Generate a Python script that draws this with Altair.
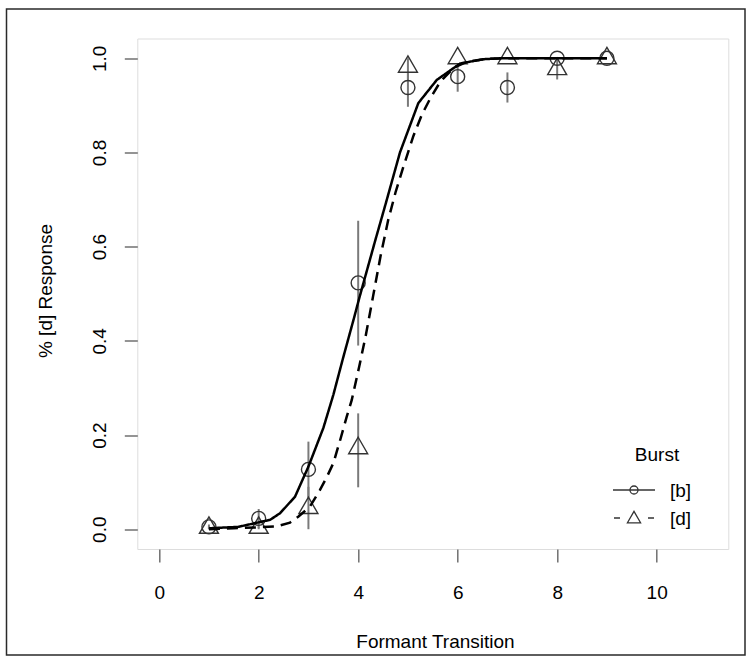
import altair as alt
import pandas as pd

# Stimulus steps along the formant-transition continuum
transition = [1, 2, 3, 4, 5, 6, 7, 8, 9]

# Proportion of [d] responses with [b] burst (mean and error-bar limits)
b_mean = [0.005, 0.023, 0.127, 0.523, 0.938, 0.961, 0.938, 1.0, 1.0]
b_low = [0.0, 0.003, 0.068, 0.390, 0.897, 0.929, 0.906, 1.0, 1.0]
b_high = [0.010, 0.043, 0.186, 0.655, 0.968, 0.985, 0.970, 1.0, 1.0]

# Proportion of [d] responses with [d] burst
d_mean = [0.003, 0.003, 0.045, 0.172, 0.982, 1.0, 1.0, 0.977, 1.0]
d_low = [0.0, 0.0, 0.0, 0.089, 0.955, 1.0, 1.0, 0.955, 1.0]
d_high = [0.006, 0.006, 0.090, 0.246, 1.0, 1.0, 1.0, 1.0, 1.0]

# Fitted response curves
b_fit_x = [1.0, 1.59, 2.23, 2.43, 2.73, 3.0, 3.3, 3.5, 3.7, 3.92, 4.02, 4.13,
           4.34, 4.55, 4.84, 5.21, 5.58, 6.05, 6.52, 6.85, 9.0]
b_fit_y = [0.002, 0.005, 0.020, 0.034, 0.069, 0.133, 0.215, 0.285, 0.365, 0.450,
           0.490, 0.532, 0.612, 0.690, 0.800, 0.905, 0.954, 0.989, 0.998, 1.0, 1.0]
d_fit_x = [1.0, 1.5, 2.0, 2.36, 2.63, 2.8, 3.03, 3.23, 3.37, 3.5, 3.64, 3.77, 3.87,
           4.02, 4.15, 4.3, 4.45, 4.6, 4.75, 4.91, 5.11, 5.28, 5.45, 5.65, 5.92,
           6.2, 6.6, 7.0, 9.0]
d_fit_y = [0.0, 0.002, 0.004, 0.006, 0.014, 0.027, 0.048, 0.083, 0.111, 0.140, 0.190,
           0.239, 0.274, 0.345, 0.410, 0.495, 0.580, 0.655, 0.715, 0.770, 0.835,
           0.880, 0.915, 0.950, 0.980, 0.993, 0.999, 1.0, 1.0]

bursts = ["[b]", "[d]"]
x_ticks = [0, 2, 4, 6, 8, 10]
y_ticks = [0.0, 0.2, 0.4, 0.6, 0.8, 1.0]

points = pd.DataFrame({
    "burst": ["[b]"] * len(transition) + ["[d]"] * len(transition),
    "step": transition + transition,
    "mean": b_mean + d_mean,
    "low": b_low + d_low,
    "high": b_high + d_high,
})
fits = pd.DataFrame({
    "burst": ["[b]"] * len(b_fit_x) + ["[d]"] * len(d_fit_x),
    "step": b_fit_x + d_fit_x,
    "fit": b_fit_y + d_fit_y,
})

# Open triangle drawn about its centroid, like R's pch = 2
TRIANGLE = "M0,-1L0.866,0.5L-0.866,0.5Z"
FONT = "Liberation Sans"
GREY = "#707070"
FS = 19

x_scale = alt.Scale(domain=[-0.44, 11.44], nice=False, zero=False)
y_scale = alt.Scale(domain=[-0.042, 1.042], nice=False, zero=False)

x_axis = alt.Axis(
    values=x_ticks, format="d", title="Formant Transition", grid=False, domain=False,
    tickSize=13, tickColor=GREY, tickWidth=1.5, labelFontSize=FS, labelColor="black",
    labelPadding=21, labelBaseline="top", labelFlush=False, labelFont=FONT,
    titleFontSize=FS, titleFontWeight="normal", titleColor="black", titleFont=FONT,
    titleX=297.7, titleY=98.8, titleBaseline="alphabetic", titleAlign="center",
)
y_axis = alt.Axis(
    values=y_ticks, format=".1f", title="% [d] Response", grid=False, domain=False,
    tickSize=13, tickColor=GREY, tickWidth=1.5, labelFontSize=FS, labelColor="black",
    labelAngle=270, labelAlign="center", labelBaseline="bottom", labelPadding=15,
    labelFlush=False, labelFont=FONT,
    titleFontSize=FS, titleFontWeight="normal", titleColor="black", titleFont=FONT,
    titleAngle=270, titleX=-85.6, titleY=252, titleBaseline="alphabetic",
    titleAlign="center",
)

X = alt.X("step:Q", scale=x_scale, axis=x_axis)

errorbars = alt.Chart(points).mark_rule(color="#7a7a7a", strokeWidth=2).encode(
    x=X,
    y=alt.Y("low:Q", scale=y_scale, axis=y_axis),
    y2="high:Q",
)

markers = alt.Chart(points).mark_point(filled=False, strokeWidth=1.4, color="#333333", opacity=1).encode(
    x=X,
    y=alt.Y("mean:Q", scale=y_scale, axis=y_axis),
    shape=alt.Shape("burst:N", scale=alt.Scale(domain=bursts, range=["circle", TRIANGLE]), legend=None),
    size=alt.Size("burst:N", scale=alt.Scale(domain=bursts, range=[196, 480]), legend=None),
)

curves = alt.Chart(fits).mark_line(color="black", strokeWidth=2.5).encode(
    x=X,
    y=alt.Y("fit:Q", scale=y_scale, axis=y_axis),
    strokeDash=alt.StrokeDash("burst:N", scale=alt.Scale(domain=bursts, range=[[1, 0], [11, 7]]), legend=None),
    order="step:Q",
)

# Legend, drawn in the lower right of the plot area
one = pd.DataFrame({"burst": ["[b]"]})
two = pd.DataFrame({"burst": ["[d]"]})
leg_title = alt.Chart(one).mark_text(text="Burst", font=FONT, fontSize=FS, align="center",
                                     baseline="middle", color="black").encode(
    x=alt.value(519.7), y=alt.value(416.5))
leg_b_line = alt.Chart(one).mark_rule(color="#333333", strokeWidth=1.5).encode(
    x=alt.value(475.7), x2=alt.value(517.7), y=alt.value(451.5))
leg_d_line = alt.Chart(two).mark_rule(color="#333333", strokeWidth=1.5, strokeDash=[6, 28]).encode(
    x=alt.value(476.7), x2=alt.value(516.7), y=alt.value(479.5))
leg_b_pt = alt.Chart(one).mark_point(shape="circle", size=64, filled=False, strokeWidth=1.3,
                                     color="#333333", opacity=1).encode(
    x=alt.value(496.7), y=alt.value(451.5))
leg_d_pt = alt.Chart(two).mark_point(shape=TRIANGLE, size=230, filled=False, strokeWidth=1.3,
                                     color="#333333", opacity=1).encode(
    x=alt.value(496.7), y=alt.value(480.5))
leg_b_txt = alt.Chart(one).mark_text(font=FONT, fontSize=FS, align="left", baseline="middle",
                                     color="black").encode(
    text="burst:N", x=alt.value(532.7), y=alt.value(452))
leg_d_txt = alt.Chart(two).mark_text(font=FONT, fontSize=FS, align="left", baseline="middle",
                                     color="black").encode(
    text="burst:N", x=alt.value(532.7), y=alt.value(480))

# Outer figure frame
frame = alt.Chart(one).mark_rect(fillOpacity=0, stroke="#2a2a2a", strokeWidth=1.5).encode(
    x=alt.value(-130.8), x2=alt.value(607.7), y=alt.value(-29.5), y2=alt.value(616.5))

chart = alt.layer(
    errorbars, markers, curves,
    leg_title, leg_b_line, leg_d_line, leg_b_pt, leg_d_pt, leg_b_txt, leg_d_txt,
    frame,
).properties(
    width=591,
    height=510.5,
    autosize=alt.AutoSizeParams(type="none"),
    padding={"left": 137.3, "top": 38.5, "right": 22.7, "bottom": 114},
    background="white",
).configure_view(
    stroke=GREY, strokeWidth=1.5,
).configure(
    font=FONT,
)

chart.save("out.html", embed_options={"renderer": "svg", "actions": False})
